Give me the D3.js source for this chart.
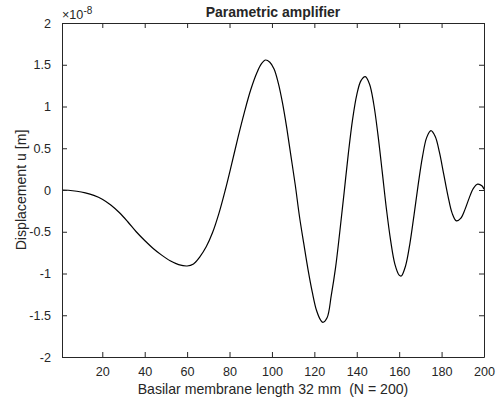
<!DOCTYPE html>
<html>
<head>
<meta charset="utf-8">
<script src="https://cdn.jsdelivr.net/npm/d3@7"></script>
<style>
	body { margin: 0; background: #fff; }
	text { font-family: "Liberation Sans", Arial, sans-serif; fill: #262626; }
</style>
</head>
<body>
<div id="chart-area"></div>
<script>
// basilar membrane position (sample index) and displacement in units of 1e-8 m
var positions = [1, 4, 8, 12, 16, 20, 24, 28, 32, 36, 40, 44, 48, 52, 56, 60,
	63, 66, 69, 72, 75, 78, 81, 84, 87, 90, 93, 95, 97, 99, 101, 103, 105, 107,
	109, 111, 113, 115, 117, 119, 121, 123, 124, 126, 128, 130, 132, 134, 136,
	138, 140, 142, 144, 146, 148, 150, 152, 154, 156, 158, 160, 161, 163, 165,
	167, 169, 171, 173, 175, 177, 179, 181, 183, 185, 187, 189, 191, 193, 195,
	197, 199, 200];

var displacement = [0, -0.003, -0.015, -0.035, -0.065, -0.11, -0.18, -0.27,
	-0.38, -0.5, -0.605, -0.7, -0.78, -0.848, -0.893, -0.91,
	-0.885, -0.8, -0.68, -0.51, -0.28, 0, 0.31, 0.63, 0.93, 1.2, 1.41, 1.51,
	1.557, 1.53, 1.45, 1.28, 1.04, 0.74,
	0.4, 0.06, -0.32, -0.64, -0.95, -1.22, -1.44, -1.56, -1.585, -1.53, -1.26,
	-0.93, -0.5, -0.04, 0.43,
	0.84, 1.14, 1.31, 1.357, 1.27, 1.03, 0.66, 0.22, -0.23, -0.61, -0.89, -1.02,
	-1.03, -0.91, -0.65,
	-0.3, 0.07, 0.4, 0.63, 0.71, 0.64, 0.45, 0.19, -0.07, -0.28, -0.37, -0.34,
	-0.235, -0.097, 0.02,
	0.07, 0.05, 0.01];

var xTicks = [20, 40, 60, 80, 100, 120, 140, 160, 180, 200];
var yTicks = [-2, -1.5, -1, -0.5, 0, 0.5, 1, 1.5, 2];

var margin = { left: 62, right: 14, top: 23, bottom: 48 };
var width = 498 - margin.left - margin.right;
var height = 405 - margin.top - margin.bottom;

var svg = d3.select("#chart-area").append("svg")
	.attr("width", 498)
	.attr("height", 405);

var g = svg.append("g")
	.attr("transform", "translate(" + margin.left + ", " + margin.top + ")");

var x = d3.scaleLinear().domain([1, 200]).range([0, width]);
var y = d3.scaleLinear().domain([-2, 2]).range([height, 0]);

// the curve
var data = positions.map(function (p, i) {
	return { x: p, y: displacement[i] };
});

var line = d3.line()
	.x(function (d) { return x(d.x); })
	.y(function (d) { return y(d.y); })
	.curve(d3.curveCatmullRom.alpha(0.5));

g.append("path")
	.datum(data)
	.attr("fill", "none")
	.attr("stroke", "#000")
	.attr("stroke-width", 1.2)
	.attr("d", line);

// axes, ticks pointing inwards on all four sides (box on)
function styleAxis(sel) {
	sel.select(".domain").attr("stroke", "#262626").attr("stroke-width", 1);
	sel.selectAll(".tick line").attr("stroke", "#262626");
	sel.selectAll(".tick text")
		.attr("font-size", "12.6px")
		.attr("fill", "#262626")
		.style("font-family", "'Liberation Sans', Arial, sans-serif");
}

var fmt = function (d) { return String(d); };

g.append("g")
	.attr("transform", "translate(0," + height + ")")
	.call(d3.axisBottom(x).tickValues(xTicks).tickSizeInner(-5).tickSizeOuter(0)
		.tickPadding(10).tickFormat(fmt))
	.call(styleAxis);

g.append("g")
	.call(d3.axisTop(x).tickValues(xTicks).tickSizeInner(-5).tickSizeOuter(0)
		.tickFormat(""))
	.call(styleAxis);

g.append("g")
	.call(d3.axisLeft(y).tickValues(yTicks).tickSizeInner(-5).tickSizeOuter(0)
		.tickPadding(11).tickFormat(fmt))
	.call(styleAxis);

g.append("g")
	.attr("transform", "translate(" + width + ",0)")
	.call(d3.axisRight(y).tickValues(yTicks).tickSizeInner(-5).tickSizeOuter(0)
		.tickFormat(""))
	.call(styleAxis);

// labels
g.append("text")
	.attr("x", width / 2)
	.attr("y", -6)
	.attr("text-anchor", "middle")
	.attr("font-size", "14px")
	.attr("font-weight", "bold")
	.text("Parametric amplifier");

g.append("text")
	.attr("x", width / 2)
	.attr("y", height + 37)
	.attr("text-anchor", "middle")
	.attr("font-size", "14.1px")
	.text("Basilar membrane length 32 mm  (N = 200)")
	.style("white-space", "pre");

g.append("text")
	.attr("transform", "rotate(-90)")
	.attr("x", -height / 2)
	.attr("y", -36)
	.attr("text-anchor", "middle")
	.attr("font-size", "14.1px")
	.text("Displacement u [m]");

// exponent marker
var expo = g.append("text")
	.attr("x", 0)
	.attr("y", -4)
	.attr("font-size", "12.6px");
expo.append("tspan").text("\u00d710");
expo.append("tspan")
	.attr("dy", -5)
	.attr("font-size", "10px")
	.text("-8");
</script>
</body>
</html>
